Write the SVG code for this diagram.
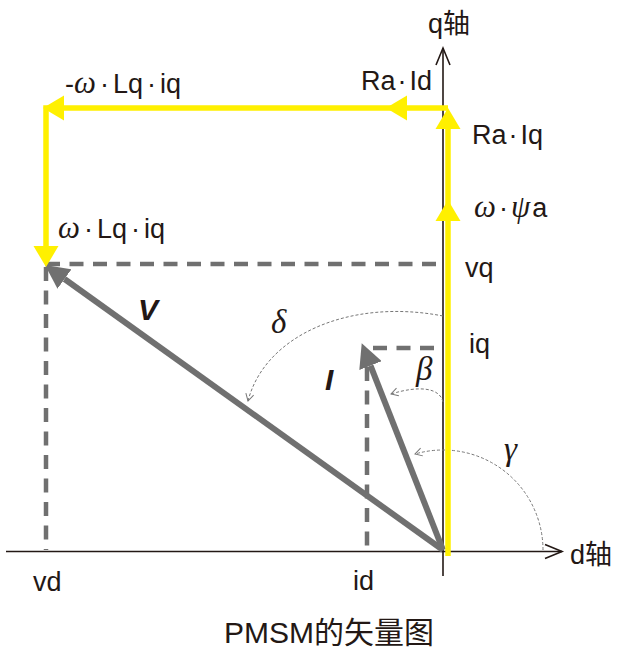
<svg xmlns="http://www.w3.org/2000/svg" xmlns:xlink="http://www.w3.org/1999/xlink" width="622" height="656" viewBox="0 0 622 656">
<style>
.ax{stroke:#231815;stroke-width:1.6;fill:none}
.yl{stroke:#FFF000;stroke-width:5.5;fill:none}
.yh{fill:#FFF000}
.dash{stroke:#707070;stroke-width:4.5;stroke-dasharray:14 9.5;fill:none}
.vec{stroke:#707070;stroke-width:6;fill:none}
.arc{stroke:#777;stroke-width:1;stroke-dasharray:3 2;fill:none}
.t{font-family:"Liberation Sans","Noto Sans CJK SC",sans-serif;font-size:27px;fill:#231815}
.g{font-family:"Liberation Serif",serif;font-style:italic;font-size:31px}
.big{font-family:"Liberation Sans",sans-serif;font-size:30px;font-weight:bold;font-style:italic;fill:#231815}
.gr{font-family:"Liberation Serif",serif;font-style:italic;font-size:33px;fill:#231815}
</style>
<defs>
<path id="yarrow" d="M0,0 L-12.5,21 L12.5,21 Z"/>
<marker id="ga" viewBox="0 -12 24 24" markerWidth="24" markerHeight="24" refX="0" refY="0" orient="auto" markerUnits="userSpaceOnUse">
<path d="M0,-12 L24,0 L0,12 Z" fill="#707070"/>
</marker>
<marker id="oa" viewBox="-8 -5 10 10" markerWidth="10" markerHeight="10" refX="0" refY="0" orient="auto" markerUnits="userSpaceOnUse">
<path d="M-7,-4 L0,0 L-7,4" fill="none" stroke="#777" stroke-width="1"/>
</marker>
</defs>
<rect width="622" height="656" fill="#fff"/>

<g id="axes">
<line class="ax" x1="443" y1="48" x2="443" y2="576"/>
<polyline class="ax" points="436,65 443,48 450,65"/>
<line class="ax" x1="6" y1="551.5" x2="562" y2="551.5"/>
<polyline class="ax" points="545,544.5 562,551.5 545,558.5"/>
</g>

<g id="connectors">
<path class="dash" d="M46,264 L441,264"/>
<path class="dash" d="M46,267 L46,550"/>
<path class="dash" d="M373,348 L440,348"/>
<path class="dash" d="M367,367 L367,550"/>
<path class="arc" d="M443,316 C350,298 265,335 248,401" marker-end="url(#oa)"/>
<path class="arc" d="M443,402 C440,388 420,385 391,394" marker-end="url(#oa)"/>
<path class="arc" d="M543,550 A100,100 0 0 0 415,454" marker-end="url(#oa)"/>
</g>

<g id="vector-V">
<line class="vec" x1="443" y1="550" x2="64.5" y2="279" marker-end="url(#ga)"/>
</g>
<g id="vector-I">
<line class="vec" x1="443" y1="550" x2="370.5" y2="365.6" marker-end="url(#ga)"/>
</g>

<g id="yellow-path">
<path class="yl" d="M448,556 L448,118"/>
<path class="yl" d="M448,108 L46,108 L46,250" stroke-linejoin="miter"/>
<use xlink:href="#yarrow" class="yh" transform="translate(448,108)"/>
<use xlink:href="#yarrow" class="yh" transform="translate(448,200)"/>
<use xlink:href="#yarrow" class="yh" transform="translate(386,108) rotate(-90)"/>
<use xlink:href="#yarrow" class="yh" transform="translate(43,108) rotate(-90)"/>
<use xlink:href="#yarrow" class="yh" transform="translate(46,267) rotate(180)"/>
</g>

<g id="labels">
<text class="t" x="428" y="33">q轴</text>
<text class="t" x="570" y="564">d轴</text>
<text class="t" x="361" y="90">Ra<tspan dx="2">·</tspan><tspan dx="3">Id</tspan></text>
<text class="t" x="472" y="144">Ra<tspan dx="2">·</tspan><tspan dx="3">Iq</tspan></text>
<text class="t" x="474" y="217"><tspan class="g">ω</tspan><tspan dx="3">·</tspan><tspan class="g" dx="3">ψ</tspan><tspan dx="2">a</tspan></text>
<text class="t" x="65" y="93">-<tspan class="g">ω</tspan><tspan dx="4">·</tspan><tspan dx="4">Lq</tspan><tspan dx="4">·</tspan><tspan dx="4">iq</tspan></text>
<text class="t" x="58" y="238"><tspan class="g">ω</tspan><tspan dx="4">·</tspan><tspan dx="4">Lq</tspan><tspan dx="4">·</tspan><tspan dx="4">iq</tspan></text>
<text class="t" x="465" y="277">vq</text>
<text class="t" x="469" y="353">iq</text>
<text class="t" x="33" y="591">vd</text>
<text class="t" x="353" y="590">id</text>
<text class="big" x="138" y="320">V</text>
<text class="big" x="325" y="390">I</text>
<text class="gr" x="271" y="333">δ</text>
<text class="gr" x="416" y="380">β</text>
<text class="gr" x="504" y="460">γ</text>
<text class="t" x="329" y="643" text-anchor="middle" style="font-size:30px">PMSM的矢量图</text>
</g>
</svg>
